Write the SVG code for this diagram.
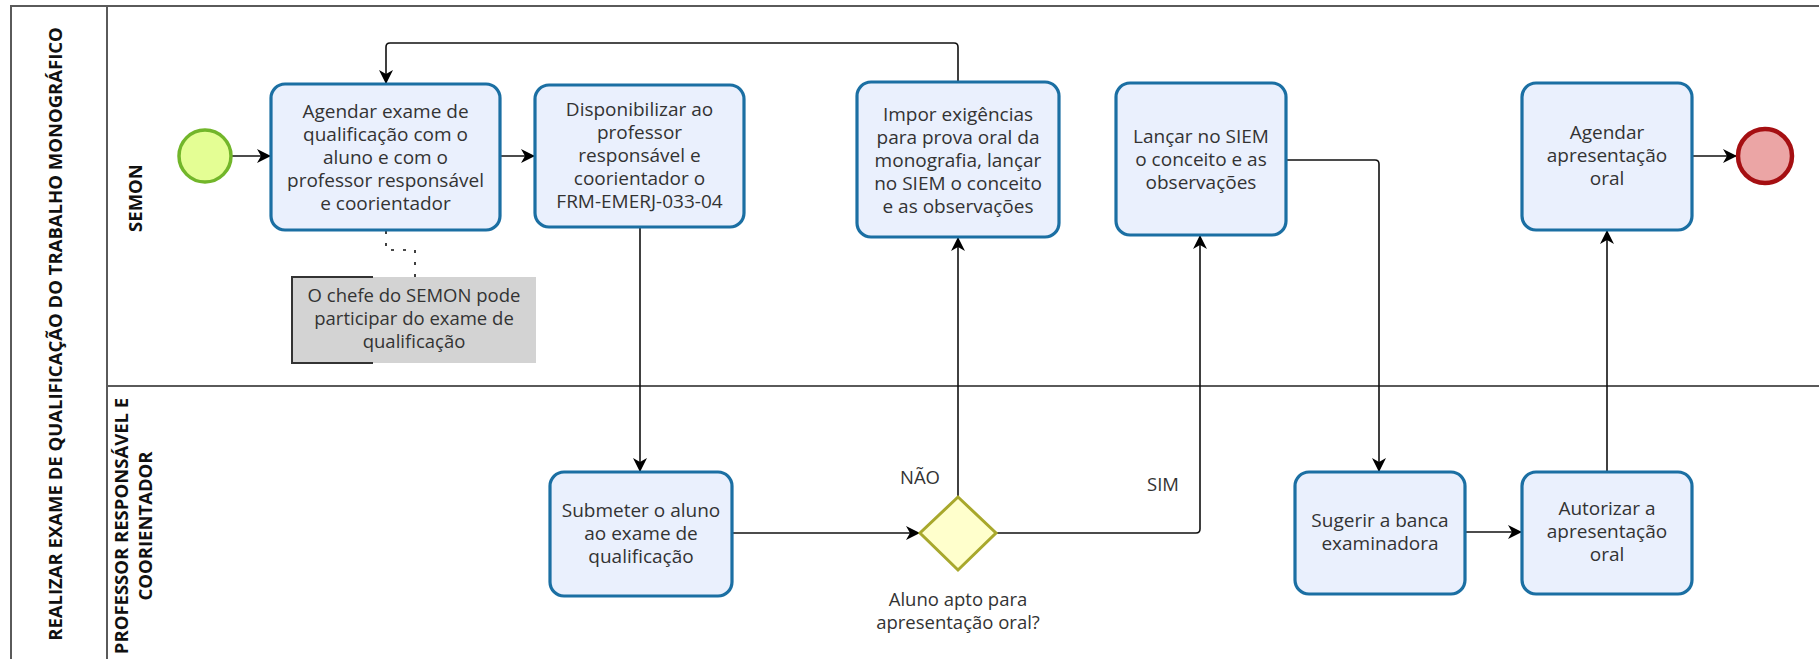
<svg xmlns="http://www.w3.org/2000/svg" width="1819" height="659" viewBox="0 0 1819 659">
<style>
.pool{fill:none;stroke:#5a5a5a;stroke-width:2}
.hdr{font-family:"Open Sans","Noto Sans",sans-serif;font-weight:bold;font-size:18.5px;fill:#111;text-anchor:middle}
.task{fill:#EAF0FD;stroke:#1B6FA3;stroke-width:3.2}
.t{font-family:"Open Sans","Noto Sans",sans-serif;font-size:19px;fill:#333;text-anchor:middle}
.s{font-family:"Open Sans","Noto Sans",sans-serif;font-size:18.5px;fill:#333;text-anchor:middle}
.c{fill:none;stroke:#111;stroke-width:1.6}
</style>
<defs>
<marker id="ah" viewBox="0 0 14 14" refX="13" refY="7" markerWidth="14" markerHeight="14" markerUnits="userSpaceOnUse" orient="auto">
<path d="M0,0 L14,7 L0,14 L4,7 z" fill="#000"/>
</marker>
</defs>
<g id="pool">
<path class="pool" d="M11,659 V6 H1819 M107,6 V659 M107,386 H1819"/>
<text class="hdr" transform="translate(62,334) rotate(-90)">REALIZAR EXAME DE QUALIFICAÇÃO DO TRABALHO MONOGRÁFICO</text>
<text class="hdr" transform="translate(142,198) rotate(-90)">SEMON</text>
<text class="hdr" transform="translate(128,526) rotate(-90)">PROFESSOR RESPONSÁVEL E</text>
<text class="hdr" transform="translate(152,526) rotate(-90)">COORIENTADOR</text>
</g>
<g id="connectors">
<path class="c" d="M232,156 H270" marker-end="url(#ah)"/>
<path class="c" d="M500,156 H534" marker-end="url(#ah)"/>
<path class="c" d="M958,82 V47 Q958,43 954,43 H390 Q386,43 386,47 V83" marker-end="url(#ah)"/>
<path class="c" d="M640,227 V471" marker-end="url(#ah)"/>
<path class="c" d="M732,533 H919" marker-end="url(#ah)"/>
<path class="c" d="M958,497 V238" marker-end="url(#ah)"/>
<path class="c" d="M996,533 H1196 Q1200,533 1200,529 V236" marker-end="url(#ah)"/>
<path class="c" d="M1286,160 H1375 Q1379,160 1379,164 V471" marker-end="url(#ah)"/>
<path class="c" d="M1465,532 H1521" marker-end="url(#ah)"/>
<path class="c" d="M1607,472 V231" marker-end="url(#ah)"/>
<path class="c" d="M1692,156 H1736" marker-end="url(#ah)"/>
<path d="M386,231 V250 H415 V277" fill="none" stroke="#111" stroke-width="1.6" stroke-dasharray="3,9"/>
</g>
<g id="start">
<circle cx="205" cy="156" r="26" fill="#E4FE94" stroke="#72B62A" stroke-width="3.5"/>
</g>
<g id="task1">
<rect class="task" x="271" y="84" width="229" height="146" rx="14"/>
<text class="t"><tspan x="385.5" y="118">Agendar exame de</tspan><tspan x="385.5" y="141">qualificação com o</tspan><tspan x="385.5" y="164">aluno e com o</tspan><tspan x="385.5" y="187">professor responsável</tspan><tspan x="385.5" y="210">e coorientador</tspan></text>
</g>
<g id="annotation">
<rect x="292" y="277" width="244" height="86" fill="#D3D3D3"/>
<path d="M373,277 H292 V363 H373" fill="none" stroke="#333" stroke-width="2"/>
<text class="s"><tspan x="414" y="302">O chefe do SEMON pode</tspan><tspan x="414" y="325">participar do exame de</tspan><tspan x="414" y="348">qualificação</tspan></text>
</g>
<g id="task2">
<rect class="task" x="535" y="85" width="209" height="142" rx="14"/>
<text class="t"><tspan x="639.5" y="116">Disponibilizar ao</tspan><tspan x="639.5" y="139">professor</tspan><tspan x="639.5" y="162">responsável e</tspan><tspan x="639.5" y="185">coorientador o</tspan><tspan x="639.5" y="208">FRM-EMERJ-033-04</tspan></text>
</g>
<g id="task3">
<rect class="task" x="857" y="82" width="202" height="155" rx="14"/>
<text class="t"><tspan x="958" y="121">Impor exigências</tspan><tspan x="958" y="144">para prova oral da</tspan><tspan x="958" y="167">monografia, lançar</tspan><tspan x="958" y="190">no SIEM o conceito</tspan><tspan x="958" y="213">e as observações</tspan></text>
</g>
<g id="task4">
<rect class="task" x="1116" y="83" width="170" height="152" rx="14"/>
<text class="t"><tspan x="1201" y="143">Lançar no SIEM</tspan><tspan x="1201" y="166">o conceito e as</tspan><tspan x="1201" y="189">observações</tspan></text>
</g>
<g id="task5">
<rect class="task" x="1522" y="83" width="170" height="147" rx="14"/>
<text class="t"><tspan x="1607" y="139">Agendar</tspan><tspan x="1607" y="162">apresentação</tspan><tspan x="1607" y="185">oral</tspan></text>
</g>
<g id="end">
<circle cx="1765" cy="156" r="27" fill="#EBA5A5" stroke="#A50F12" stroke-width="4.5"/>
</g>
<g id="task6">
<rect class="task" x="550" y="472" width="182" height="124" rx="14"/>
<text class="t"><tspan x="641" y="517">Submeter o aluno</tspan><tspan x="641" y="540">ao exame de</tspan><tspan x="641" y="563">qualificação</tspan></text>
</g>
<g id="gateway">
<path d="M958,497 L996,533 L958,570 L920,533 z" fill="#FFFFCC" stroke="#A8A82C" stroke-width="3"/>
<text class="s"><tspan x="958" y="606">Aluno apto para</tspan><tspan x="958" y="629">apresentação oral?</tspan></text>
<text class="s" x="920" y="484">NÃO</text>
<text class="s" x="1163" y="491">SIM</text>
</g>
<g id="task7">
<rect class="task" x="1295" y="472" width="170" height="122" rx="14"/>
<text class="t"><tspan x="1380" y="527">Sugerir a banca</tspan><tspan x="1380" y="550">examinadora</tspan></text>
</g>
<g id="task8">
<rect class="task" x="1522" y="472" width="170" height="122" rx="14"/>
<text class="t"><tspan x="1607" y="515">Autorizar a</tspan><tspan x="1607" y="538">apresentação</tspan><tspan x="1607" y="561">oral</tspan></text>
</g>
</svg>
